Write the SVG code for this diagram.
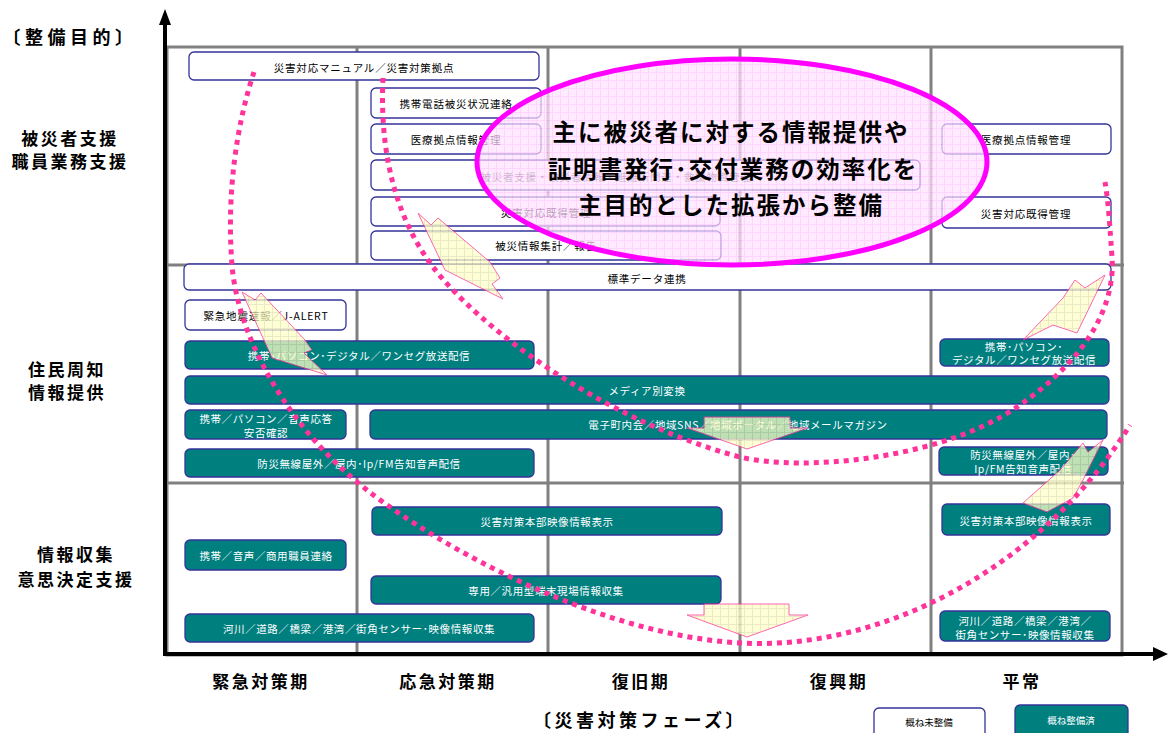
<svg xmlns="http://www.w3.org/2000/svg" width="1168" height="733" viewBox="0 0 1168 733">
<style>
text{font-family:"Noto Sans CJK JP","Liberation Sans",sans-serif;}
.w{fill:#ffffff;stroke:#333399;stroke-width:1.3;}
.t{fill:#007f7f;stroke:#333399;stroke-width:1.3;}
.bt{font-size:10.5px;fill:#000;text-anchor:middle;dominant-baseline:central;letter-spacing:0.8px;}
.tt{font-size:10.5px;fill:#fff;text-anchor:middle;dominant-baseline:central;letter-spacing:0.6px;}
.lab{font-size:17px;font-weight:bold;fill:#000;text-anchor:middle;dominant-baseline:central;letter-spacing:2.5px;}
.big{font-size:23.5px;font-weight:bold;fill:#000;text-anchor:middle;dominant-baseline:central;letter-spacing:2px;}
.grid{stroke:#808080;stroke-width:3;fill:none;}
.dot{fill:none;stroke:#ff3399;stroke-width:5;stroke-dasharray:5 5;}
.fat{fill:url(#ygrid);stroke:#ff3399;stroke-width:1;}
</style>
<defs>
<pattern id="pgrid" width="8" height="8" patternUnits="userSpaceOnUse">
<rect width="8" height="8" fill="#ffe2ff"/>
<path d="M0 0.5H8M0.5 0V8" stroke="#ffc4ff" stroke-width="1"/>
</pattern>
<pattern id="ygrid" width="8" height="8" patternUnits="userSpaceOnUse">
<rect width="8" height="8" fill="#ffffc8"/>
<path d="M0 0.5H8M0.5 0V8" stroke="#e4e4b4" stroke-width="1"/>
</pattern>
</defs>
<rect width="1168" height="733" fill="#ffffff"/>

<g id="grid">
<rect class="grid" x="167" y="47" width="955" height="608"/>
<path class="grid" d="M357 47V655M548 47V655M740 47V655M931 47V655M167 265H1124M167 483H1124"/>
</g>

<g id="axes">
<path d="M165 655V22" stroke="#000" stroke-width="4"/>
<polygon points="165,9 159,25 171,25" fill="#000"/>
<path d="M163 654H1155" stroke="#000" stroke-width="4"/>
<polygon points="1168,654 1153,647 1153,661" fill="#000"/>
</g>

<g id="labels">
<text class="lab" x="70" y="36" style="font-size:18px;letter-spacing:4.5px">〔整備目的〕</text>
<text class="lab" x="70" y="137">被災者支援</text>
<text class="lab" x="70" y="160">職員業務支援</text>
<text class="lab" x="67" y="368">住民周知</text>
<text class="lab" x="67" y="391">情報提供</text>
<text class="lab" x="76" y="553">情報収集</text>
<text class="lab" x="76" y="578">意思決定支援</text>
<text class="lab" x="261" y="680">緊急対策期</text>
<text class="lab" x="448" y="680">応急対策期</text>
<text class="lab" x="641" y="680">復旧期</text>
<text class="lab" x="839" y="680">復興期</text>
<text class="lab" x="1022" y="680">平常</text>
<text class="lab" x="640" y="719" style="font-size:18px;letter-spacing:3.5px">〔災害対策フェーズ〕</text>
</g>

<g id="legend">
<rect class="w" x="874" y="708" width="111" height="32" rx="5"/>
<text class="bt" x="929" y="722" style="font-size:9.5px;letter-spacing:0">概ね未整備</text>
<rect class="t" x="1015" y="705" width="113" height="34" rx="5"/>
<text class="tt" x="1071" y="720" style="font-size:9.5px;letter-spacing:0">概ね整備済</text>
</g>

<g id="n1"><rect class="w" x="189" y="52" width="350" height="28" rx="5"/><text class="bt" x="364" y="67">災害対応マニュアル／災害対策拠点</text></g>
<g id="n2"><rect class="w" x="371" y="88" width="170" height="30" rx="5"/><text class="bt" x="456" y="103">携帯電話被災状況連絡</text></g>
<g id="n3"><rect class="w" x="371" y="124" width="170" height="30" rx="5"/><text class="bt" x="456" y="139">医療拠点情報管理</text></g>
<g id="n4"><rect class="w" x="371" y="160" width="549" height="30" rx="5"/><text class="bt" x="616" y="176" style="fill:#555">被災者支援・被災者情報・避難所関連・救援物資管理</text></g>
<g id="n5"><rect class="w" x="371" y="197" width="349" height="29" rx="5"/><text class="bt" x="546" y="212">災害対応既得管理</text></g>
<g id="n6"><rect class="w" x="371" y="231" width="350" height="29" rx="5"/><text class="bt" x="546" y="245">被災情報集計／報告</text></g>
<g id="n7"><rect class="w" x="942" y="124" width="169" height="30" rx="5"/><text class="bt" x="1026" y="139">医療拠点情報管理</text></g>
<g id="n8"><rect class="w" x="942" y="197" width="169" height="31" rx="5"/><text class="bt" x="1026" y="213">災害対応既得管理</text></g>

<g id="n9"><rect class="w" x="184" y="264" width="927" height="26" rx="5"/><text class="bt" x="647" y="278">標準データ連携</text></g>
<g id="n10"><rect class="w" x="185" y="300" width="161" height="30" rx="5"/><text class="bt" x="266" y="315">緊急地震速報／J-ALERT</text></g>
<g id="n11"><rect class="t" x="185" y="341" width="349" height="28" rx="5"/><text class="tt" x="359" y="355">携帯･パソコン･デジタル／ワンセグ放送配信</text></g>
<g id="n12"><rect class="t" x="185" y="376" width="924" height="28" rx="5"/><text class="tt" x="647" y="390">メディア別変換</text></g>
<g id="n13"><rect class="t" x="185" y="410" width="161" height="29" rx="5"/><text class="tt" x="266" y="418">携帯／パソコン／音声応答</text><text class="tt" x="266" y="432">安否確認</text></g>
<g id="n14"><rect class="t" x="370" y="410" width="737" height="29" rx="5"/><text class="tt" x="738" y="424">電子町内会／地域SNS／地域ポータル／地域メールマガジン</text></g>
<g id="n15"><rect class="t" x="185" y="449" width="349" height="28" rx="5"/><text class="tt" x="359" y="463">防災無線屋外／屋内･Ip/FM告知音声配信</text></g>
<g id="n16"><rect class="t" x="940" y="339" width="169" height="27" rx="5"/><text class="tt" x="1024" y="346">携帯･パソコン･</text><text class="tt" x="1024" y="359">デジタル／ワンセグ放送配信</text></g>
<g id="n17"><rect class="t" x="939" y="447" width="169" height="28" rx="5"/><text class="tt" x="1023" y="454">防災無線屋外／屋内･</text><text class="tt" x="1023" y="468">Ip/FM告知音声配信</text></g>

<g id="n18"><rect class="t" x="372" y="507" width="350" height="28" rx="5"/><text class="tt" x="547" y="521">災害対策本部映像情報表示</text></g>
<g id="n19"><rect class="t" x="185" y="540" width="161" height="30" rx="5"/><text class="tt" x="266" y="555">携帯／音声／商用職員連絡</text></g>
<g id="n20"><rect class="t" x="371" y="576" width="350" height="28" rx="5"/><text class="tt" x="546" y="590">専用／汎用型端末現場情報収集</text></g>
<g id="n21"><rect class="t" x="185" y="614" width="349" height="28" rx="5"/><text class="tt" x="359" y="628">河川／道路／橋梁／港湾／街角センサー･映像情報収集</text></g>
<g id="n22"><rect class="t" x="942" y="504" width="168" height="31" rx="5"/><text class="tt" x="1026" y="520">災害対策本部映像情報表示</text></g>
<g id="n23"><rect class="t" x="940" y="611" width="170" height="30" rx="5"/><text class="tt" x="1025" y="620">河川／道路／橋梁／港湾／</text><text class="tt" x="1025" y="634">街角センサー･映像情報収集</text></g>

<g id="connectors">
<g opacity="0.75">
<polygon class="fat" points="418,213 431,225 438,218 490,262 500,278 492,284 503,299 445,270"/>
<polygon class="fat" points="242,292 255,300 261,293 305,340 312,350 304,353 327,375 272,358"/>
<polygon class="fat" points="1023,340 1053,325 1077,333 1093,300 1105,275 1085,288 1075,280 1063,298"/>
<polygon class="fat" points="1023,503 1047,512 1073,498 1083,480 1103,440 1088,452 1083,443 1060,470"/>
<polygon class="fat" points="704,417 790,417 790,428 808,428 747,449 687,428 704,428"/>
<polygon class="fat" points="704,604 789,604 789,615 808,615 747,637 687,615 704,615"/>
</g>
<path class="dot" d="M254,72 C238,120 226,190 232,265 C238,340 290,430 367,490 C444,550 600,635 740,643 C880,651 1040,570 1130,425"/>
<path class="dot" d="M383,78 C380,140 390,210 433,267 C476,324 600,420 740,457 C800,472 940,460 1017,407 C1094,354 1115,300 1112,257 C1109,214 1108,200 1105,182"/>
</g>

<g id="focus">
<ellipse cx="732" cy="162" rx="255" ry="103" fill="url(#pgrid)" fill-opacity="0.72" stroke="#ff00ff" stroke-width="5"/>
<text class="big" x="731" y="131">主に被災者に対する情報提供や</text>
<text class="big" x="733" y="168">証明書発行･交付業務の効率化を</text>
<text class="big" x="731" y="204">主目的とした拡張から整備</text>
</g>
</svg>
